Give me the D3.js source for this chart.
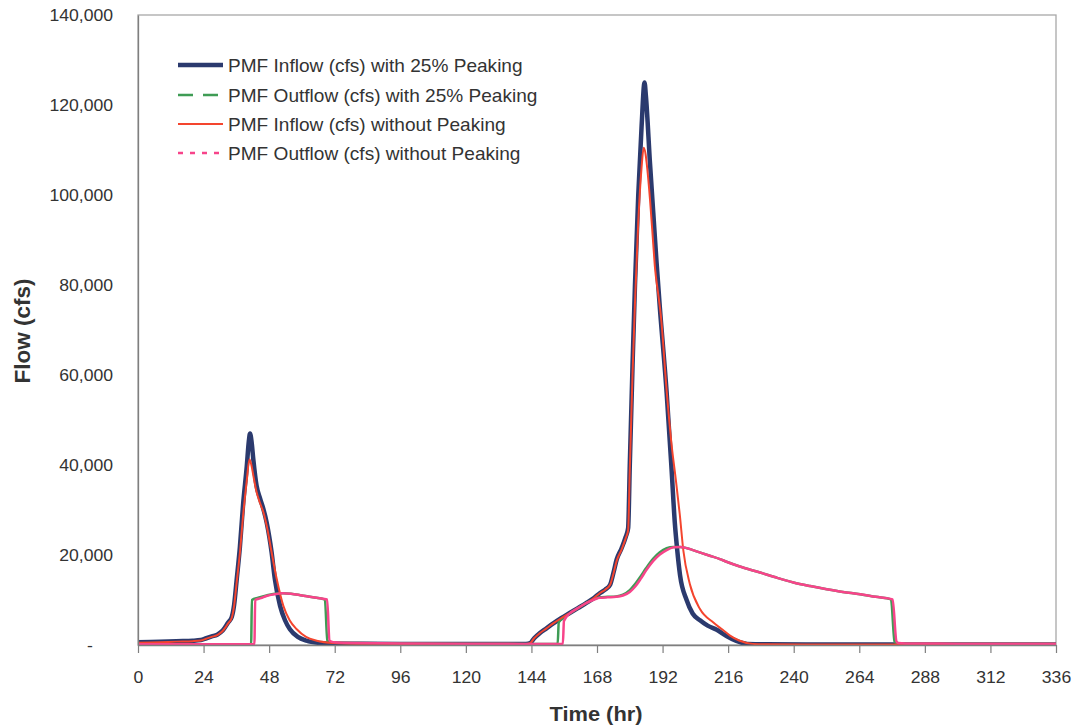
<!DOCTYPE html>
<html>
<head>
<meta charset="utf-8">
<script src="https://cdn.jsdelivr.net/npm/d3@7"></script>
<style>
  html, body { margin: 0; padding: 0; background: #fff; }
  svg { display: block; font-family: "Liberation Sans", Arial, sans-serif; }
</style>
</head>
<body>
<svg id="chart" width="1075" height="728"></svg>
<script>
// Hydrograph readings: [time (hr), flow (cfs)]
const inflowPeaking = [
  [0,600],[8,700],[14,850],[20,950],[23,1100],[25,1500],[27,1900],[29,2300],[31,3200],[33,5000],
  [34.3,6200],[35.2,9000],[36.1,14400],[37.3,21800],[38.5,31500],[39.8,39600],[40.6,45500],[41,47000],
  [41.6,45000],[42.2,41300],[43.4,35400],[44.7,32500],[45.9,30200],[47.1,27200],[48.9,20600],[50.1,14600],
  [52,8700],[53.8,5500],[55.6,3500],[58.5,1800],[61.7,950],[66.6,450],[72,300],[96,250],[120,200],[142,250],
  [143.5,400],[145,1500],[147,2600],[149.5,3700],[152,4800],[155,6000],[158,7100],[161,8200],[164,9300],
  [167,10500],[169,11500],[171,12300],[172.8,13400],[174,16000],[175.2,19000],[177,21500],[178.5,24000],
  [179.4,26000],[180,40000],[181,62000],[181.9,80000],[183.1,100000],[184.3,115000],[185.4,125000],
  [185.9,122000],[187.4,107000],[188.6,96000],[189.8,85000],[191,75000],[193.5,56000],[195.3,39000],
  [196.5,27000],[197.3,21500],[198.4,15500],[200.8,10000],[203,7000],[205.7,5500],[208.5,4300],[211.8,3400],
  [215.4,2000],[219,900],[223,250],[230,150],[260,120],[300,100],[336,100]
];

const outflowPeaking = [
  [0,150],[20,180],[41.4,200],[41.7,10000],[44,10500],[47,11000],[50,11400],[53,11500],[56,11400],
  [60,11000],[64,10600],[68.4,10100],[69.3,1000],[70,700],[72,550],[80,450],[100,350],[120,300],[142,250],
  [153.6,250],[154,5000],[155,5700],[158,7000],[161,8200],[164,9300],[167,10200],[169,10600],[172,10700],
  [175,10800],[177.5,11200],[180,12200],[182,13600],[184,15300],[186,17100],[188.6,19200],[191,20600],
  [193.5,21500],[196,21800],[198.4,21800],[201,21500],[205,20700],[209,19900],[213,19100],[215.4,18500],
  [220,17500],[227.7,16100],[233,15100],[239.9,13900],[246,13100],[252.1,12400],[258,11800],[264.3,11300],
  [270,10700],[275.6,10150],[276.9,800],[277.5,450],[280,350],[300,300],[336,300]
];

const inflowNoPeaking = [
  [0,500],[8,600],[14,750],[20,850],[23,1000],[25,1400],[27,1800],[29,2200],[31,3100],[33,4800],
  [34.3,6000],[35.2,8800],[36.1,13800],[37.3,20500],[38.5,29000],[39.8,36500],[40.8,41300],[41.5,40000],
  [42.2,37700],[43.4,34000],[44.7,31500],[45.9,29500],[47.1,26500],[48.9,20600],[50.8,14600],[53.2,8700],
  [55.5,5500],[58.1,3500],[61.5,1800],[65.4,950],[71.4,450],[80,300],[96,250],[120,200],[142,250],
  [143.5,400],[145,1500],[147,2600],[149.5,3700],[152,4800],[155,6000],[158,7100],[161,8200],[164,9300],
  [167,10500],[169,11500],[171,12300],[172.8,13400],[174,15800],[175.2,18700],[177,21200],[178.5,23700],
  [179.4,25500],[180,39000],[181,60000],[181.9,76000],[183.1,94000],[184.3,106000],[185.1,110500],
  [185.8,109000],[186.2,107000],[187.4,99000],[188.6,89000],[189.2,84000],[190.4,78000],[191.4,73000],
  [193.5,56500],[195.3,44500],[196.8,37000],[198.3,29000],[199.6,21000],[202,13500],[205.7,8000],
  [210.6,5000],[213.5,3600],[216.7,2100],[220,1000],[225,250],[230,150],[260,120],[300,100],[336,100]
];

const outflowNoPeaking = [
  [0,150],[20,180],[42.6,200],[42.9,10000],[45,10400],[47,10900],[50,11300],[53,11500],[56,11400],
  [60,11000],[64,10600],[69.2,10100],[70.1,1000],[71,700],[72,600],[80,450],[100,350],[120,300],[142,250],
  [155.5,250],[155.9,5300],[158,7000],[161,8200],[164,9300],[167,10100],[169,10500],[172,10600],
  [175,10700],[177.5,11000],[180,11800],[182,13000],[184,14700],[186,16600],[188.6,18700],[191,20100],
  [193.5,21100],[196,21700],[198.4,21800],[201,21500],[205,20700],[209,19900],[213,19100],[215.4,18500],
  [220,17500],[227.7,16100],[233,15100],[239.9,13900],[246,13100],[252.1,12400],[258,11800],[264.3,11300],
  [270,10700],[276.2,10100],[277.6,800],[278.2,450],[281,350],[300,300],[336,300]
];

const seriesNames = [
  "PMF Inflow (cfs) with 25% Peaking",
  "PMF Outflow (cfs) with 25% Peaking",
  "PMF Inflow (cfs) without Peaking",
  "PMF Outflow (cfs) without Peaking"
];

const xTickValues = [0, 24, 48, 72, 96, 120, 144, 168, 192, 216, 240, 264, 288, 312, 336];
const yTickValues = [0, 20000, 40000, 60000, 80000, 100000, 120000, 140000];

// Series styling, drawn in this order (first one at the bottom)
const series = [
  { name: seriesNames[0], data: inflowPeaking,   color: "#2b3a6e", width: 4.5, legendDash: null },
  { name: seriesNames[1], data: outflowPeaking,  color: "#3f9c55", width: 2.5, legendDash: "15,10" },
  { name: seriesNames[2], data: inflowNoPeaking, color: "#f4452e", width: 2.0, legendDash: null },
  { name: seriesNames[3], data: outflowNoPeaking,color: "#f7448a", width: 2.5, legendDash: "5,7" }
];

const plot = { left: 138, top: 15, right: 1056, bottom: 645 };
const textStretch = 1.1;

const svg = d3.select("#chart");

const x = d3.scaleLinear().domain([0, 336]).range([plot.left, plot.right]);
const y = d3.scaleLinear().domain([0, 140000]).range([plot.bottom, plot.top]);

// plot area frame
svg.append("rect")
  .attr("x", plot.left).attr("y", plot.top)
  .attr("width", plot.right - plot.left).attr("height", plot.bottom - plot.top)
  .attr("fill", "none").attr("stroke", "#a8a8a8").attr("stroke-width", 1.3);

svg.append("clipPath").attr("id", "plotClip")
  .append("rect")
  .attr("x", plot.left).attr("y", plot.top - 4)
  .attr("width", plot.right - plot.left).attr("height", plot.bottom - plot.top + 4);

// hydrograph lines
const line = d3.line()
  .x(d => x(d[0]))
  .y(d => y(d[1]))
  .curve(d3.curveMonotoneX);

const linesG = svg.append("g").attr("clip-path", "url(#plotClip)");
series.forEach(s => {
  linesG.append("path")
    .datum(s.data)
    .attr("d", line)
    .attr("fill", "none")
    .attr("stroke", s.color)
    .attr("stroke-width", s.width)
    .attr("stroke-linejoin", "round")
    .attr("stroke-linecap", "round");
});

// x axis
const xAxis = d3.axisBottom(x)
  .tickValues(xTickValues)
  .tickSize(8)
  .tickSizeOuter(0)
  .tickFormat(d3.format("d"));

const gx = svg.append("g")
  .attr("transform", `translate(0,${plot.bottom})`)
  .call(xAxis);
gx.select(".domain").attr("stroke", "#7f7f7f").attr("stroke-width", 1.3);
gx.selectAll(".tick line").attr("stroke", "#7f7f7f").attr("stroke-width", 1.2);
gx.selectAll(".tick text")
  .attr("y", 27)
  .attr("dy", "0.71em")
  .attr("transform", `scale(${textStretch},1)`)
  .attr("fill", "#333")
  .style("font-size", "16px");

// y axis
const yFmt = d3.format(",");
const yAxis = d3.axisLeft(y)
  .tickValues(yTickValues)
  .tickSize(0)
  .tickSizeOuter(0)
  .tickFormat(d => d === 0 ? "-" : yFmt(d));

const gy = svg.append("g")
  .attr("transform", `translate(${plot.left},0)`)
  .call(yAxis);
gy.select(".domain").attr("stroke", "#7f7f7f").attr("stroke-width", 1.3);
gy.selectAll(".tick text")
  .attr("x", d => d === 0 ? -41 : -22.7)
  .attr("dy", "0.34em")
  .attr("transform", `scale(${textStretch},1)`)
  .attr("fill", "#333")
  .style("font-size", "16px");

// axis titles
svg.append("text")
  .attr("transform", "translate(596,721) scale(1.04,1)")
  .attr("text-anchor", "middle")
  .attr("font-weight", "bold")
  .attr("fill", "#333")
  .style("font-size", "21px")
  .text("Time (hr)");

svg.append("text")
  .attr("transform", "translate(30,331) rotate(-90)")
  .attr("text-anchor", "middle")
  .attr("font-weight", "bold")
  .attr("fill", "#333")
  .style("font-size", "22.5px")
  .text("Flow (cfs)");

// legend
const legendRows = [65, 95, 124, 153];
const legend = svg.append("g");
series.forEach((s, i) => {
  const ry = legendRows[i];
  legend.append("line")
    .attr("x1", 178).attr("x2", 223)
    .attr("y1", ry).attr("y2", ry)
    .attr("stroke", s.color)
    .attr("stroke-width", s.width)
    .attr("stroke-dasharray", s.legendDash);
  legend.append("text")
    .attr("transform", `translate(228,${ry + 7}) scale(1.09,1)`)
    .attr("fill", "#333")
    .style("font-size", "17.5px")
    .text(s.name);
});
</script>
</body>
</html>
